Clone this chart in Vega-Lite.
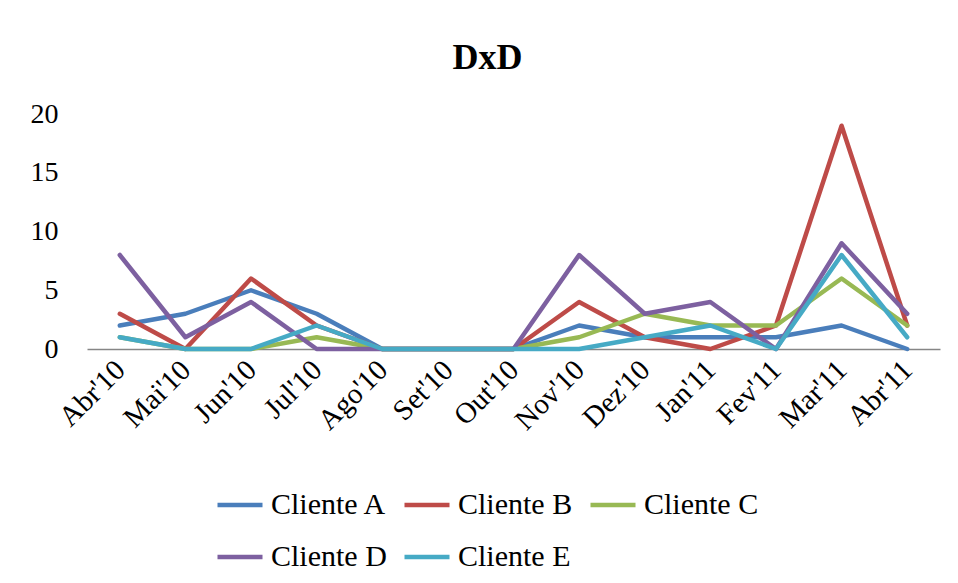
{
  "$schema": "https://vega.github.io/schema/vega-lite/v6.json",
  "autosize": "none",
  "width": 853,
  "height": 235,
  "padding": {"left": 87, "top": 114, "right": 18, "bottom": 234},
  "background": "white",
  "title": {"text": "DxD", "font": "Liberation Serif, Times New Roman, serif", "fontSize": 36, "fontWeight": "bold", "color": "#000000", "anchor": "middle", "dx": -26, "offset": 23},
  "config": {"view": {"stroke": null}},
  "data": {"values": [
    {"mes": "Abr'10", "i": 0, "A": 2, "B": 3, "C": 1, "D": 8, "E": 1},
    {"mes": "Mai'10", "i": 1, "A": 3, "B": 0, "C": 0, "D": 1, "E": 0},
    {"mes": "Jun'10", "i": 2, "A": 5, "B": 6, "C": 0, "D": 4, "E": 0},
    {"mes": "Jul'10", "i": 3, "A": 3, "B": 2, "C": 1, "D": 0, "E": 2},
    {"mes": "Ago'10", "i": 4, "A": 0, "B": 0, "C": 0, "D": 0, "E": 0},
    {"mes": "Set'10", "i": 5, "A": 0, "B": 0, "C": 0, "D": 0, "E": 0},
    {"mes": "Out'10", "i": 6, "A": 0, "B": 0, "C": 0, "D": 0, "E": 0},
    {"mes": "Nov'10", "i": 7, "A": 2, "B": 4, "C": 1, "D": 8, "E": 0},
    {"mes": "Dez'10", "i": 8, "A": 1, "B": 1, "C": 3, "D": 3, "E": 1},
    {"mes": "Jan'11", "i": 9, "A": 1, "B": 0, "C": 2, "D": 4, "E": 2},
    {"mes": "Fev'11", "i": 10, "A": 1, "B": 2, "C": 2, "D": 0, "E": 0},
    {"mes": "Mar'11", "i": 11, "A": 2, "B": 19, "C": 6, "D": 9, "E": 8},
    {"mes": "Abr'11", "i": 12, "A": 0, "B": 2, "C": 2, "D": 3, "E": 1}
  ]},
  "transform": [
    {"fold": ["A", "B", "C", "D", "E"], "as": ["k", "valor"]},
    {"lookup": "k", "from": {"data": {"values": [
      {"k": "A", "cliente": "Cliente A"},
      {"k": "B", "cliente": "Cliente B"},
      {"k": "C", "cliente": "Cliente C"},
      {"k": "D", "cliente": "Cliente D"},
      {"k": "E", "cliente": "Cliente E"}
    ]}, "key": "k", "fields": ["cliente"]}}
  ],
  "mark": {"type": "line", "strokeWidth": 4.5, "strokeJoin": "round", "strokeCap": "round"},
  "encoding": {
    "x": {
      "field": "mes", "type": "ordinal",
      "sort": {"field": "i"},
      "scale": {"type": "point", "padding": 0.5},
      "axis": {
        "title": null, "ticks": false, "grid": false,
        "domainColor": "#868686", "domainWidth": 1.5,
        "labelAngle": -45, "labelAlign": "right", "labelBaseline": "middle",
        "labelFont": "Liberation Serif, Times New Roman, serif", "labelFontSize": 29, "labelColor": "#000000",
        "labelPadding": 16
      }
    },
    "y": {
      "field": "valor", "type": "quantitative",
      "scale": {"domain": [0, 20], "nice": false},
      "axis": {
        "title": null, "ticks": false, "grid": false, "domain": false,
        "values": [0, 5, 10, 15, 20],
        "labelFont": "Liberation Serif, Times New Roman, serif", "labelFontSize": 28, "labelColor": "#000000",
        "labelPadding": 29
      }
    },
    "color": {
      "field": "cliente", "type": "nominal",
      "scale": {"domain": ["Cliente A", "Cliente B", "Cliente C", "Cliente D", "Cliente E"],
                "range": ["#4A7EBB", "#BE4B48", "#98B954", "#7D60A0", "#46AAC5"]},
      "legend": {
        "title": null, "orient": "none", "legendX": 128, "legendY": 366,
        "direction": "horizontal", "columns": 3,
        "symbolType": "stroke", "symbolSize": 2025, "symbolStrokeWidth": 4.5,
        "labelFont": "Liberation Serif, Times New Roman, serif", "labelFontSize": 30, "labelColor": "#000000",
        "labelOffset": 6, "columnPadding": 8, "rowPadding": 12
      }
    }
  }
}
